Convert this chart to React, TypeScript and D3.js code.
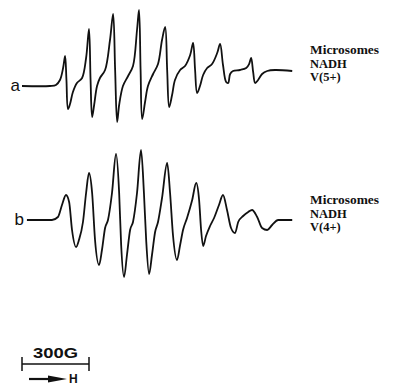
import * as d3 from 'd3';

// EPR spectra: magnetic field (G, relative) vs. first-derivative signal (arbitrary units)
const traceA: [number, number][] = [
  [0, 0], [125, 0], [152, 1], [170, 6], [184, 18], [193, 30], [199, 6], [206, -23],
  [215, -18], [228, -6], [246, 3], [269, 8], [287, 28], [300, 57], [307, 6], [314, -31],
  [323, -19], [336, 0], [349, 8], [372, 16], [394, 46], [408, 72], [417, 16], [426, -36],
  [435, -19], [452, 0], [475, 10], [497, 20], [515, 56], [524, 76], [531, 16], [538, -33],
  [551, -16], [564, 0], [587, 12], [609, 22], [627, 46], [641, 59], [650, 16], [659, -21],
  [672, -9], [685, 6], [708, 16], [730, 20], [753, 31], [766, 43], [775, 16], [784, -7],
  [797, 0], [811, 11], [829, 18], [851, 22], [874, 33], [887, 42], [900, 21], [914, 4],
  [923, 3], [932, 12], [945, 15], [976, 16], [1004, 18], [1017, 22], [1026, 28], [1035, 14],
  [1044, 3], [1057, 6], [1075, 12], [1098, 15], [1133, 16], [1210, 15],
];

const traceB: [number, number][] = [
  [22, 0], [134, 0], [161, 3], [179, 15], [197, 25], [211, 18], [224, -10], [242, -27],
  [255, -20], [273, -2], [287, 27], [300, 47], [314, 27], [327, -20], [345, -45], [358, -30],
  [372, -8], [385, 0], [403, 27], [421, 66], [435, 27], [444, -25], [457, -57], [470, -35],
  [484, -10], [497, -2], [515, 27], [533, 70], [546, 27], [556, -20], [569, -54], [582, -35],
  [596, -12], [609, -2], [627, 22], [650, 57], [663, 27], [676, -15], [694, -40], [708, -25],
  [721, -10], [739, 2], [762, 20], [780, 37], [793, 20], [802, -10], [811, -26], [824, -16],
  [842, -6], [860, 2], [882, 15], [900, 25], [918, 10], [936, -8], [954, -13], [968, -2],
  [990, 4], [1013, 8], [1030, 10], [1053, 3], [1075, -8], [1098, -10], [1120, -5], [1147, 0],
  [1210, 0],
];

const traceLabels = ['a', 'b'];
const sampleA = ['Microsomes', 'NADH', 'V(5+)'];
const sampleB = ['Microsomes', 'NADH', 'V(4+)'];
const scaleBarGauss = 300;
const scaleBarLabel = '300G';
const fieldLabel = 'H';

const width = 393;
const height = 385;

const App = () => {
  const x = d3.scaleLinear().domain([0, 1200]).range([22, 290]);
  const yA = d3.scaleLinear().domain([0, 76]).range([86, 10]);
  const yB = d3.scaleLinear().domain([0, 70]).range([220, 150]);

  // sharp hyperfine lines for a, broader rounded lines for b
  const lineA = d3
    .line<[number, number]>()
    .x((d) => x(d[0]))
    .y((d) => yA(d[1]))
    .curve(d3.curveCatmullRom.alpha(0.5));
  const lineB = d3
    .line<[number, number]>()
    .x((d) => x(d[0]))
    .y((d) => yB(d[1]))
    .curve(d3.curveMonotoneX);

  const barX0 = x(0);
  const barX1 = x(scaleBarGauss);
  const barY = 364;

  const serif = '"Liberation Serif", "Times New Roman", serif';
  const sans = '"Liberation Sans", Arial, sans-serif';

  return (
    <svg
      width={width}
      height={height}
      style={{ position: 'absolute', left: 0, top: 0, background: '#fff' }}
    >
      <path d={lineA(traceA) ?? ''} fill="none" stroke="#111" strokeWidth={1.8} strokeLinejoin="round" />
      <path d={lineB(traceB) ?? ''} fill="none" stroke="#111" strokeWidth={1.8} strokeLinejoin="round" />

      <text x={x(0) - 2} y={yA(0) + 5} textAnchor="end" fontFamily={sans} fontSize={17} fill="#111">
        {traceLabels[0]}
      </text>
      <text x={x(22) - 3} y={yB(0) + 5} textAnchor="end" fontFamily={sans} fontSize={17} fill="#111">
        {traceLabels[1]}
      </text>

      {sampleA.map((t, i) => (
        <text
          key={'a' + i}
          x={310}
          y={54 + i * 13.5}
          fontFamily={serif}
          fontWeight="bold"
          fontSize={12.5}
          textLength={i === 0 ? 69 : undefined}
          lengthAdjust="spacingAndGlyphs"
          fill="#111"
        >
          {t}
        </text>
      ))}
      {sampleB.map((t, i) => (
        <text
          key={'b' + i}
          x={310}
          y={204 + i * 13.5}
          fontFamily={serif}
          fontWeight="bold"
          fontSize={12.5}
          textLength={i === 0 ? 69 : undefined}
          lengthAdjust="spacingAndGlyphs"
          fill="#111"
        >
          {t}
        </text>
      ))}

      {/* scale bar */}
      <text
        x={(barX0 + barX1) / 2}
        y={358}
        textAnchor="middle"
        fontFamily={sans}
        fontWeight="bold"
        fontSize={14}
        textLength={45}
        lengthAdjust="spacingAndGlyphs"
        fill="#111"
      >
        {scaleBarLabel}
      </text>
      <line x1={barX0} x2={barX1} y1={barY} y2={barY} stroke="#111" strokeWidth={1.5} />
      <line x1={barX0} x2={barX0} y1={barY - 7} y2={barY + 7} stroke="#111" strokeWidth={1.5} />
      <line x1={barX1} x2={barX1} y1={barY - 7} y2={barY + 7} stroke="#111" strokeWidth={1.5} />

      <line x1={barX0 + 7} x2={barX0 + 30} y1={379} y2={379} stroke="#111" strokeWidth={2.2} />
      <path
        d={`M${barX0 + 26},${375.5} L${barX0 + 45},${379} L${barX0 + 26},${382.5} Z`}
        fill="#111"
      />
      <text x={barX0 + 47} y={383} fontFamily={sans} fontWeight="bold" fontSize={12} fill="#111">
        {fieldLabel}
      </text>
    </svg>
  );
};

export default App;
